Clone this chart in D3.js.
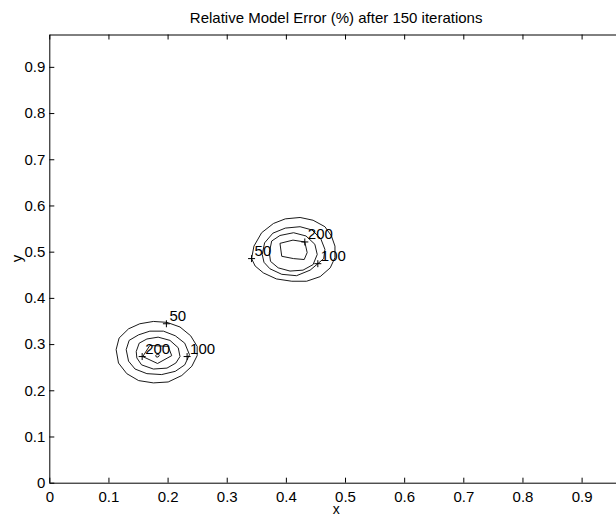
<!DOCTYPE html>
<html>
<head>
<meta charset="utf-8">
<script src="https://cdn.jsdelivr.net/npm/d3@7"></script>
<style>
  body { margin: 0; background: #fff; }
  text { font-family: "Liberation Sans", Arial, sans-serif; }
</style>
</head>
<body>
<div id="chart"></div>
<script>
// tick values / labels
const xTicks = [0, 0.1, 0.2, 0.3, 0.4, 0.5, 0.6, 0.7, 0.8, 0.9];
const xTickLabels = ["0", "0.1", "0.2", "0.3", "0.4", "0.5", "0.6", "0.7", "0.8", "0.9"];
const yTicks = [0, 0.1, 0.2, 0.3, 0.4, 0.5, 0.6, 0.7, 0.8, 0.9];
const yTickLabels = ["0", "0.1", "0.2", "0.3", "0.4", "0.5", "0.6", "0.7", "0.8", "0.9"];

// contour lines, lower-left peak
const peakA_50 = [[0.113,0.288],[0.118,0.313],[0.134,0.333],[0.153,0.344],[0.176,0.349],[0.199,0.347],[0.221,0.337],[0.239,0.318],[0.250,0.295],[0.250,0.275],[0.241,0.252],[0.224,0.232],[0.201,0.218],[0.176,0.216],[0.151,0.221],[0.131,0.236],[0.117,0.259]];
const peakA_100 = [[0.130,0.288],[0.135,0.308],[0.151,0.320],[0.170,0.328],[0.193,0.328],[0.213,0.318],[0.229,0.302],[0.237,0.277],[0.229,0.255],[0.213,0.241],[0.190,0.234],[0.165,0.236],[0.145,0.246],[0.134,0.263]];
const peakA_150 = [[0.147,0.284],[0.152,0.302],[0.165,0.311],[0.184,0.315],[0.204,0.308],[0.218,0.292],[0.221,0.273],[0.214,0.259],[0.199,0.248],[0.176,0.246],[0.156,0.255],[0.148,0.270]];
const peakA_200 = [[0.158,0.273],[0.170,0.297],[0.201,0.295],[0.207,0.275],[0.183,0.258]];
const peakA_250 = [[0.180,0.275],[0.182,0.278],[0.185,0.278],[0.186,0.275],[0.184,0.272],[0.181,0.272]];

// upper peak
const peakB_50 = [[0.342,0.485],[0.346,0.512],[0.359,0.541],[0.379,0.561],[0.399,0.571],[0.424,0.574],[0.446,0.568],[0.466,0.554],[0.477,0.534],[0.483,0.512],[0.483,0.487],[0.475,0.465],[0.458,0.446],[0.435,0.436],[0.410,0.436],[0.384,0.441],[0.362,0.454],[0.348,0.469]];
const peakB_100 = [[0.360,0.494],[0.364,0.519],[0.378,0.540],[0.399,0.551],[0.424,0.554],[0.444,0.547],[0.459,0.528],[0.466,0.505],[0.464,0.485],[0.454,0.474],[0.441,0.460],[0.418,0.448],[0.393,0.451],[0.373,0.463],[0.363,0.477]];
const peakB_150 = [[0.372,0.498],[0.376,0.523],[0.390,0.535],[0.413,0.541],[0.434,0.534],[0.449,0.516],[0.453,0.494],[0.446,0.472],[0.429,0.460],[0.407,0.458],[0.387,0.465],[0.374,0.479]];
const peakB_200 = [[0.390,0.518],[0.412,0.525],[0.432,0.521],[0.436,0.498],[0.431,0.483],[0.413,0.485],[0.393,0.490]];

const contourLines = [peakA_50, peakA_100, peakA_150, peakA_200, peakA_250,
                      peakB_50, peakB_100, peakB_150, peakB_200];

// clabel positions (+ marker) and their text
const labelPoints = [[0.198,0.344],[0.233,0.273],[0.157,0.273],[0.342,0.485],[0.432,0.521],[0.454,0.474]];
const labelTexts = ["50", "100", "200", "50", "200", "100"];

const W = 616, H = 517;
const FONT = "15px";

const svg = d3.select("#chart")
  .append("svg")
  .attr("width", W)
  .attr("height", H);

// box runs past the right edge of the window, as in the original
const x = d3.scaleLinear().domain([0, 0.97]).range([49.3, 623]);
const y = d3.scaleLinear().domain([0, 0.97]).range([482.7, 34.5]);

// axes with inward ticks
const axB = svg.append("g")
  .attr("transform", `translate(0,${y(0)})`)
  .call(d3.axisBottom(x).tickValues(xTicks)
          .tickFormat((d, i) => xTickLabels[i])
          .tickSizeInner(-5).tickSizeOuter(0).tickPadding(8.5));
const axT = svg.append("g")
  .attr("transform", `translate(0,${y(0.97)})`)
  .call(d3.axisTop(x).tickValues(xTicks).tickFormat("")
          .tickSizeInner(-5).tickSizeOuter(0));
const axL = svg.append("g")
  .attr("transform", `translate(${x(0)},0)`)
  .call(d3.axisLeft(y).tickValues(yTicks)
          .tickFormat((d, i) => yTickLabels[i])
          .tickSizeInner(-5).tickSizeOuter(0).tickPadding(4));
const axR = svg.append("g")
  .attr("transform", `translate(${x(0.97)},0)`)
  .call(d3.axisRight(y).tickValues(yTicks).tickFormat("")
          .tickSizeInner(-5).tickSizeOuter(0));

[axB, axT, axL, axR].forEach(g => {
  g.select(".domain").attr("stroke", "#000").attr("stroke-width", 1);
  g.selectAll(".tick line").attr("stroke", "#000");
  g.selectAll("text").attr("fill", "#000").style("font-size", FONT)
   .style("font-family", "'Liberation Sans', Arial, sans-serif");
});

// contours
const line = d3.line()
  .x(d => x(d[0]))
  .y(d => y(d[1]))
  .curve(d3.curveLinearClosed);

svg.append("g")
  .selectAll("path")
  .data(contourLines)
  .enter()
  .append("path")
  .attr("d", line)
  .attr("fill", "none")
  .attr("stroke", "#000")
  .attr("stroke-width", 0.9);

// clabel + markers
const marks = svg.append("g");
labelPoints.forEach((p, i) => {
  const cx = x(p[0]), cy = y(p[1]);
  marks.append("path")
    .attr("d", `M${cx - 3.5},${cy}H${cx + 3.5}M${cx},${cy - 3.5}V${cy + 3.5}`)
    .attr("stroke", "#000")
    .attr("stroke-width", 1);
  marks.append("text")
    .attr("x", cx + 3)
    .attr("y", cy - 3)
    .style("font-size", FONT)
    .text(labelTexts[i]);
});

// title and axis labels
svg.append("text")
  .attr("x", (x(0) + x(0.97)) / 2)
  .attr("y", 23.3)
  .attr("text-anchor", "middle")
  .style("font-size", FONT)
  .text("Relative Model Error (%) after 150 iterations");

svg.append("text")
  .attr("x", (x(0) + x(0.97)) / 2)
  .attr("y", 514)
  .attr("text-anchor", "middle")
  .style("font-size", "14px")
  .text("x");

svg.append("text")
  .attr("transform", `translate(22,${(y(0) + y(0.97)) / 2}) rotate(-90)`)
  .attr("text-anchor", "middle")
  .style("font-size", FONT)
  .text("y");
</script>
</body>
</html>
